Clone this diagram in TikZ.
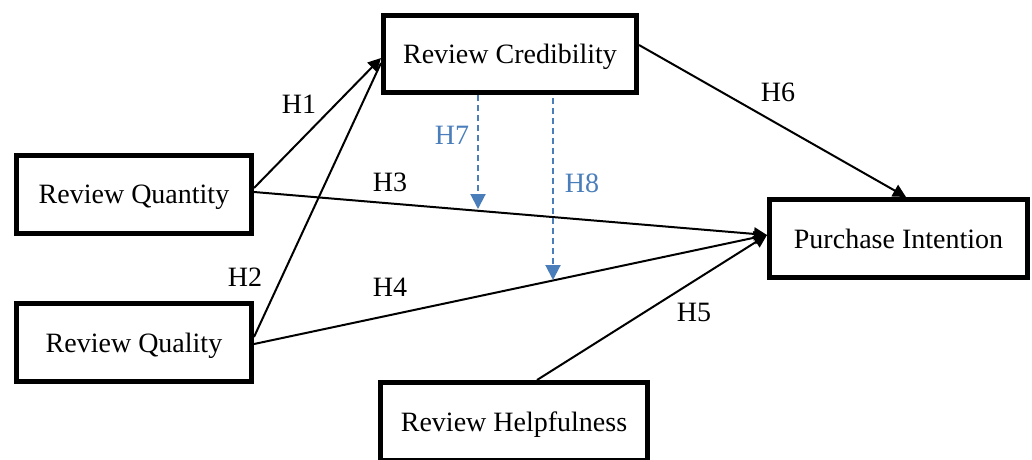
\documentclass[tikz,border=0pt]{standalone}
\usepackage{fontspec}
\setmainfont{Liberation Serif}
\usetikzlibrary{arrows.meta}
\definecolor{hblue}{RGB}{74,126,187}
\begin{document}
\begin{tikzpicture}[x=1pt,y=-1pt,
  box/.style={draw=black,line width=5pt,fill=white,rectangle,inner sep=0pt,
    text depth=0pt,font=\fontsize{28}{30}\selectfont},
  conn/.style={line width=2pt,-{Triangle[length=13pt,width=13pt]}},
  plainconn/.style={line width=2pt},
  modconn/.style={draw=hblue,line width=2pt,dash pattern=on 6pt off 4pt,
    -{Triangle[length=15pt,width=15pt]}},
  lbl/.style={font=\fontsize{28}{30}\selectfont,inner sep=0pt},
  bluelbl/.style={lbl,text=hblue}]
\clip (0,0) rectangle (1032,459);
\fill[white] (0,0) rectangle (1032,459);

\node[box,minimum width=253pt,minimum height=77pt] (cred) at (510,54) {Review Credibility};
\node[box,minimum width=235pt,minimum height=78pt] (quant) at (134,194.5) {Review Quantity};
\node[box,minimum width=235pt,minimum height=78pt] (qual) at (134,342.5) {Review Quality};
\node[box,minimum width=258pt,minimum height=78pt] (purch) at (898.5,238.5) {Purchase Intention};
\node[box,minimum width=267pt,minimum height=78pt] (help) at (514,421.5) {Review Helpfulness};

\coordinate (h7end) at (478,209);
\coordinate (h8end) at (553,280);

% H1, H2
\draw[plainconn] ([yshift=5.5pt]qual.east) -- ([yshift=-9pt]cred.west);
\draw[conn] ([yshift=6.5pt]quant.east) -- ([yshift=-4pt]cred.west);
% H3, H4, H5
\draw[conn] ([yshift=2.5pt]quant.east) -- ([yshift=3.5pt]purch.west);
\draw[conn] ([yshift=-1.5pt]qual.east) -- ([yshift=3.5pt]purch.west);
\draw[conn] ([xshift=23pt]help.north) -- ([yshift=3.5pt]purch.west);
% H6
\draw[conn] ([yshift=9pt]cred.east) -- ([xshift=7.5pt]purch.north);
% H7, H8
\draw[modconn] ([xshift=-32pt]cred.south) -- (h7end);
\draw[modconn] ([xshift=43pt,yshift=-3pt]cred.south) -- (h8end);

\node[lbl] (l1) at (299,104) {H1};
\node[lbl] (l2) at (245,277) {H2};
\node[lbl] (l3) at (390,182) {H3};
\node[lbl] (l4) at (390,287) {H4};
\node[lbl] (l5) at (694,312) {H5};
\node[lbl] (l6) at (778,92) {H6};
\node[bluelbl] (l7) at (452,135) {H7};
\node[bluelbl] (l8) at (582,183) {H8};
\end{tikzpicture}
\end{document}
